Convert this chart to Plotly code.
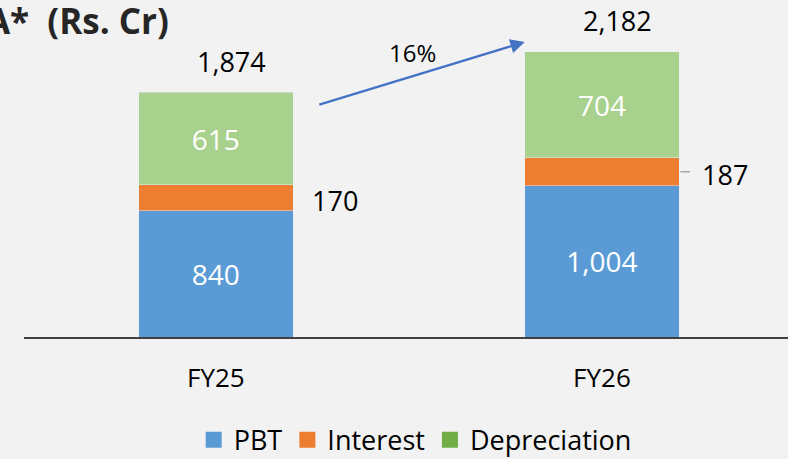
import plotly.graph_objects as go

categories = ["FY25", "FY26"]
pbt = [840, 1004]
interest = [170, 187]
depreciation = [615, 704]
pbt_labels = ["840", "1,004"]
interest_labels = ["170", "187"]
dep_labels = ["615", "704"]
total_labels = ["1,874", "2,182"]
growth_label = "16%"
title_text = "EBITDA*\u00a0\u00a0(Rs. Cr)"

FONT = "'Open Sans', 'Noto Sans', sans-serif"
C_PBT = "#5b9bd5"
C_INT = "#ed7d31"
C_DEP = "#a9d18e"
C_DEP_LEG = "#70ad47"

W, H = 788, 459
ML, MR, MT, MB = 24, 0, 20, 122
plot_w = W - ML - MR
plot_h = H - MT - MB

xs = [0, 1]
fig = go.Figure()

fig.add_trace(go.Bar(x=xs, y=pbt, marker_color=C_PBT, text=pbt_labels, textposition="inside",
                     insidetextanchor="middle", textangle=0, textfont=dict(color="white", size=28, family=FONT),
                     showlegend=False, hoverinfo="skip"))
fig.add_trace(go.Bar(x=xs, y=interest, marker_color=C_INT, showlegend=False, hoverinfo="skip"))
fig.add_trace(go.Bar(x=xs, y=depreciation, marker_color=C_DEP, text=dep_labels, textposition="inside",
                     insidetextanchor="middle", textangle=0, textfont=dict(color="white", size=28, family=FONT),
                     showlegend=False, hoverinfo="skip"))

# legend entries
for name, col in [("PBT", C_PBT), ("Interest", C_INT), ("Depreciation", C_DEP_LEG)]:
    fig.add_trace(go.Scatter(x=[None], y=[None], mode="markers", name=name,
                             marker=dict(symbol="square", size=16, color=col)))

annotations = []
shapes = []
int_shift = [94, 98]
for i in range(2):
    ymid = pbt[i] + interest[i] / 2
    annotations.append(dict(x=xs[i], y=ymid, xref="x", yref="y", text=interest_labels[i],
                            showarrow=False, xanchor="left", yanchor="middle", xshift=int_shift[i], yshift=-3,
                            font=dict(size=27, color="black", family=FONT)))
    total = pbt[i] + interest[i] + depreciation[i]
    annotations.append(dict(x=xs[i], y=total, xref="x", yref="y", text=total_labels[i],
                            showarrow=False, xanchor="center", yanchor="middle", xshift=16, yshift=31,
                            font=dict(size=27, color="black", family=FONT)))

# leader line for FY26 interest label
ymid26 = pbt[1] + interest[1] / 2
shapes.append(dict(type="line", xref="x", yref="y", x0=1.203, x1=1.228, y0=ymid26, y1=ymid26,
                   line=dict(color="#a6a6a6", width=1.5)))

# growth arrow
annotations.append(dict(x=0.80, y=1959, ax=0.264, ay=1540, xref="x", yref="y", axref="x", ayref="y",
                        text="", showarrow=True, arrowhead=2, arrowsize=1.3, arrowwidth=2.2,
                        arrowcolor="#4472c4"))
annotations.append(dict(x=0.51, y=1886, xref="x", yref="y", text=growth_label, showarrow=False,
                        font=dict(size=24, color="black", family=FONT)))

# title (cut off at the left edge as in the source)
annotations.append(dict(x=(171 - ML) / plot_w, y=(H - MB + 5) / plot_h, xref="paper", yref="paper",
                        text="<b>" + title_text + "</b>",
                        showarrow=False, xanchor="right", yanchor="top",
                        font=dict(size=35, color="#262626", family=FONT)))

fig.update_layout(
    width=W, height=H,
    margin=dict(l=ML, r=MR, t=MT, b=MB),
    paper_bgcolor="#f2f2f2", plot_bgcolor="#f2f2f2",
    barmode="stack", bargap=0.6,
    showlegend=True,
    legend=dict(orientation="h", traceorder="normal", x=0.512, xanchor="center", yref="container",
                y=0.041, yanchor="middle",
                font=dict(size=27, color="black", family=FONT), bgcolor="rgba(0,0,0,0)",
                itemsizing="trace"),
    xaxis=dict(tickmode="array", tickvals=xs, ticktext=categories, range=[-0.497, 1.482],
               showline=True, linecolor="#404040", linewidth=2, showgrid=False, zeroline=False,
               ticks="", ticklabelstandoff=17, tickfont=dict(size=26, color="black", family=FONT)),
    yaxis=dict(visible=False, range=[0, 2105], showgrid=False, zeroline=False),
    annotations=annotations, shapes=shapes,
)

fig.write_html("out.html", config={"displayModeBar": False},
               post_script="document.body.style.margin='0';document.body.style.overflow='hidden';")
